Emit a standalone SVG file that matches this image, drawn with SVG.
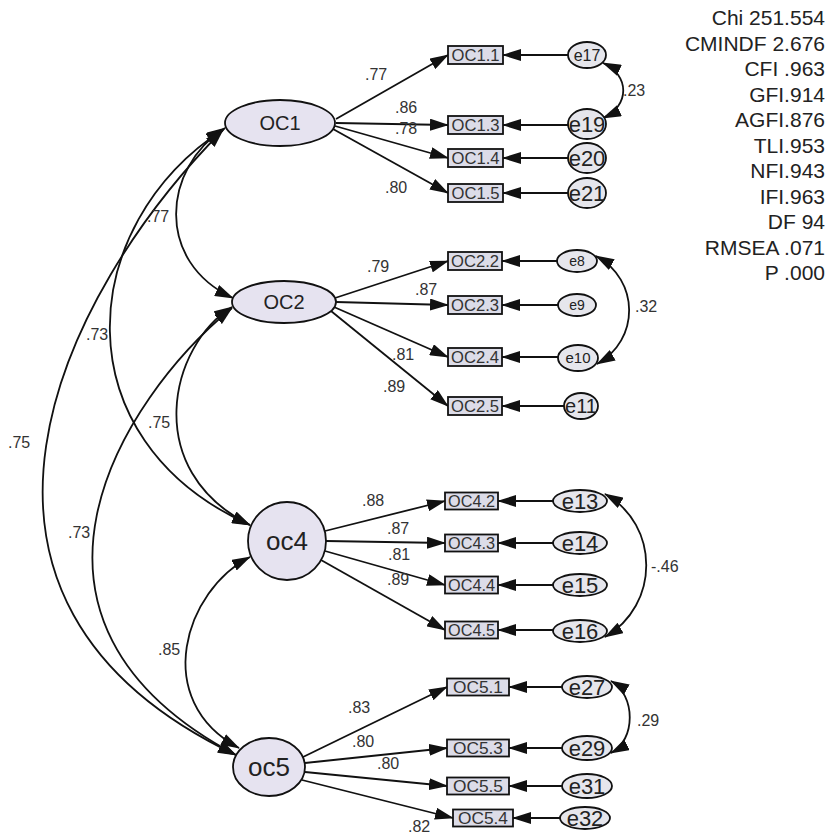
<svg xmlns="http://www.w3.org/2000/svg" width="833" height="838" viewBox="0 0 833 838">
<defs>
<marker id="ah" viewBox="0 0 19 12" refX="18" refY="6" markerWidth="19" markerHeight="12" orient="auto-start-reverse" markerUnits="userSpaceOnUse"><path d="M0,0 L19,6 L0,12 z" fill="#111"/></marker>
<style>
text{font-family:"Liberation Sans",Arial,sans-serif}
.lat{fill:#e6e3f0;stroke:#111;stroke-width:1.8}
.box{fill:#dcdce8;stroke:#111;stroke-width:1.8}
.err{fill:#e6e6ec;stroke:#111;stroke-width:1.8}
.ln{fill:none;stroke:#111;stroke-width:1.8;marker-end:url(#ah)}
.cov{fill:none;stroke:#111;stroke-width:1.8;marker-start:url(#ah);marker-end:url(#ah)}
.bt{font-size:16px;fill:#333;text-anchor:middle}
.lt{font-size:20px;fill:#222;text-anchor:middle}
.et{fill:#222;text-anchor:middle}
.cf{font-size:16px;fill:#333}
.st{font-size:21px;fill:#222;text-anchor:end}
</style>
</defs>
<rect width="833" height="838" fill="#ffffff"/>

<g id="connectors">
<path class="ln" d="M336,119 L448,55"/>
<path class="ln" d="M336,123 L448,125"/>
<path class="ln" d="M335,126 L448,158"/>
<path class="ln" d="M333,129 L448,193"/>
<path class="ln" d="M335,298 L448,261"/>
<path class="ln" d="M336,302 L448,305"/>
<path class="ln" d="M334,307 L448,357"/>
<path class="ln" d="M331,311 L448,406"/>
<path class="ln" d="M325,531 L445,501"/>
<path class="ln" d="M326,541 L445,543"/>
<path class="ln" d="M325,551 L445,585"/>
<path class="ln" d="M321,560 L445,630"/>
<path class="ln" d="M303,757 L447,687"/>
<path class="ln" d="M305,763 L447,748"/>
<path class="ln" d="M305,772 L447,786"/>
<path class="ln" d="M302,780 L453,818"/>
<path class="ln" d="M568,55 L503,55"/>
<path class="ln" d="M568,125 L503,125"/>
<path class="ln" d="M568,158 L503,158"/>
<path class="ln" d="M568,193 L503,193"/>
<path class="ln" d="M557,261 L502,261"/>
<path class="ln" d="M558,305 L502,305"/>
<path class="ln" d="M558,357 L502,357"/>
<path class="ln" d="M564,406 L502,406"/>
<path class="ln" d="M553,501 L498,501"/>
<path class="ln" d="M553,543 L498,543"/>
<path class="ln" d="M553,585 L498,585"/>
<path class="ln" d="M553,630 L498,630"/>
<path class="ln" d="M562,687 L509,687"/>
<path class="ln" d="M562,748 L509,748"/>
<path class="ln" d="M562,786 L509,786"/>
<path class="ln" d="M560,818 L513,818"/>
<path class="cov" d="M603,63 C630,75 630,106 603,118"/>
<path class="cov" d="M596,256 C640,280 640,340 597,364"/>
<path class="cov" d="M605,494 C660,525 660,605 605,637"/>
<path class="cov" d="M611,681 C636,695 636,740 611,753"/>
<path class="cov" d="M225,128 C162,168 155,262 233,298"/>
<path class="cov" d="M224,129 C75,225 60,440 250,525"/>
<path class="cov" d="M223,130 C60,294 -90,600 236,755"/>
<path class="cov" d="M232,307 C170,345 140,470 250,525"/>
<path class="cov" d="M232,308 C120,400 -18,620 236,755"/>
<path class="cov" d="M250,557 C185,590 150,700 239,748"/>
</g>

<g id="labels">
<text class="cf" x="365" y="80">.77</text>
<text class="cf" x="395" y="113">.86</text>
<text class="cf" x="395" y="134">.78</text>
<text class="cf" x="385" y="193">.80</text>
<text class="cf" x="367" y="272">.79</text>
<text class="cf" x="415" y="295">.87</text>
<text class="cf" x="392" y="360">.81</text>
<text class="cf" x="383" y="392">.89</text>
<text class="cf" x="362" y="506">.88</text>
<text class="cf" x="387" y="534">.87</text>
<text class="cf" x="388" y="560">.81</text>
<text class="cf" x="387" y="585">.89</text>
<text class="cf" x="348" y="713">.83</text>
<text class="cf" x="352" y="747">.80</text>
<text class="cf" x="377" y="769">.80</text>
<text class="cf" x="408" y="832">.82</text>
<text class="cf" x="623" y="96">.23</text>
<text class="cf" x="635" y="312">.32</text>
<text class="cf" x="651" y="572">-.46</text>
<text class="cf" x="637" y="726">.29</text>
<text class="cf" x="147" y="222">.77</text>
<text class="cf" x="86" y="340">.73</text>
<text class="cf" x="148" y="428">.75</text>
<text class="cf" x="8" y="448">.75</text>
<text class="cf" x="68" y="538">.73</text>
<text class="cf" x="158" y="655">.85</text>
</g>

<g id="OC1"><ellipse class="lat" cx="280" cy="123" rx="55" ry="23"/><text class="lt" x="280" y="130">OC1</text></g>
<g id="OC2"><ellipse class="lat" cx="284" cy="302" rx="52" ry="21"/><text class="lt" x="284" y="309">OC2</text></g>
<g id="oc4"><circle class="lat" cx="287" cy="541" r="39"/><text class="lt" x="287" y="550" style="font-size:26px">oc4</text></g>
<g id="oc5"><ellipse class="lat" cx="269" cy="767" rx="36" ry="29"/><text class="lt" x="269" y="776" style="font-size:26px">oc5</text></g>

<g id="OC1.1"><rect class="box" x="448" y="46" width="55" height="18"/><text class="bt" x="475.5" y="61" textLength="48" lengthAdjust="spacingAndGlyphs">OC1.1</text></g>
<g id="OC1.3"><rect class="box" x="448" y="116" width="55" height="18"/><text class="bt" x="475.5" y="131" textLength="48" lengthAdjust="spacingAndGlyphs">OC1.3</text></g>
<g id="OC1.4"><rect class="box" x="448" y="149" width="55" height="18"/><text class="bt" x="475.5" y="164" textLength="48" lengthAdjust="spacingAndGlyphs">OC1.4</text></g>
<g id="OC1.5"><rect class="box" x="448" y="184" width="55" height="18"/><text class="bt" x="475.5" y="199" textLength="48" lengthAdjust="spacingAndGlyphs">OC1.5</text></g>
<g id="OC2.2"><rect class="box" x="448" y="252" width="54" height="18"/><text class="bt" x="475" y="267" textLength="48" lengthAdjust="spacingAndGlyphs">OC2.2</text></g>
<g id="OC2.3"><rect class="box" x="448" y="296" width="54" height="18"/><text class="bt" x="475" y="311" textLength="48" lengthAdjust="spacingAndGlyphs">OC2.3</text></g>
<g id="OC2.4"><rect class="box" x="448" y="348" width="54" height="18"/><text class="bt" x="475" y="363" textLength="48" lengthAdjust="spacingAndGlyphs">OC2.4</text></g>
<g id="OC2.5"><rect class="box" x="448" y="397" width="54" height="18"/><text class="bt" x="475" y="412" textLength="48" lengthAdjust="spacingAndGlyphs">OC2.5</text></g>
<g id="OC4.2"><rect class="box" x="445" y="492.5" width="53" height="17"/><text class="bt" x="471.5" y="507" textLength="47" lengthAdjust="spacingAndGlyphs">OC4.2</text></g>
<g id="OC4.3"><rect class="box" x="445" y="534.5" width="53" height="17"/><text class="bt" x="471.5" y="549" textLength="47" lengthAdjust="spacingAndGlyphs">OC4.3</text></g>
<g id="OC4.4"><rect class="box" x="445" y="576.5" width="53" height="17"/><text class="bt" x="471.5" y="591" textLength="47" lengthAdjust="spacingAndGlyphs">OC4.4</text></g>
<g id="OC4.5"><rect class="box" x="445" y="621.5" width="53" height="17"/><text class="bt" x="471.5" y="636" textLength="47" lengthAdjust="spacingAndGlyphs">OC4.5</text></g>
<g id="OC5.1"><rect class="box" x="447" y="678.5" width="62" height="17"/><text class="bt" x="478" y="693" textLength="50" lengthAdjust="spacingAndGlyphs">OC5.1</text></g>
<g id="OC5.3"><rect class="box" x="447" y="739.5" width="62" height="17"/><text class="bt" x="478" y="754" textLength="50" lengthAdjust="spacingAndGlyphs">OC5.3</text></g>
<g id="OC5.5"><rect class="box" x="447" y="777.5" width="62" height="17"/><text class="bt" x="478" y="792" textLength="50" lengthAdjust="spacingAndGlyphs">OC5.5</text></g>
<g id="OC5.4"><rect class="box" x="453" y="809.5" width="60" height="17"/><text class="bt" x="483" y="824" textLength="50" lengthAdjust="spacingAndGlyphs">OC5.4</text></g>

<g id="e17"><ellipse class="err" cx="587" cy="55" rx="19" ry="13"/><text class="et" x="587" y="61" style="font-size:16px">e17</text></g>
<g id="e19"><ellipse class="err" cx="587" cy="124" rx="19" ry="15"/><text class="et" x="587" y="132" style="font-size:22px">e19</text></g>
<g id="e20"><ellipse class="err" cx="587" cy="158" rx="19" ry="15"/><text class="et" x="587" y="166" style="font-size:22px">e20</text></g>
<g id="e21"><ellipse class="err" cx="587" cy="193" rx="19" ry="15"/><text class="et" x="587" y="201" style="font-size:22px">e21</text></g>
<g id="e8"><ellipse class="err" cx="577" cy="261" rx="20" ry="11"/><text class="et" x="577" y="266" style="font-size:14px">e8</text></g>
<g id="e9"><ellipse class="err" cx="577" cy="305" rx="19" ry="11"/><text class="et" x="577" y="310" style="font-size:14px">e9</text></g>
<g id="e10"><ellipse class="err" cx="578" cy="358" rx="20" ry="13"/><text class="et" x="578" y="363" style="font-size:15px">e10</text></g>
<g id="e11"><ellipse class="err" cx="581" cy="406" rx="17" ry="13"/><text class="et" x="581" y="413" style="font-size:20px">e11</text></g>
<g id="e13"><ellipse class="err" cx="580" cy="501" rx="27" ry="11"/><text class="et" x="580" y="509" style="font-size:22px">e13</text></g>
<g id="e14"><ellipse class="err" cx="580" cy="543" rx="27" ry="11"/><text class="et" x="580" y="551" style="font-size:22px">e14</text></g>
<g id="e15"><ellipse class="err" cx="580" cy="585" rx="27" ry="11"/><text class="et" x="580" y="593" style="font-size:22px">e15</text></g>
<g id="e16"><ellipse class="err" cx="580" cy="631" rx="27" ry="11"/><text class="et" x="580" y="639" style="font-size:22px">e16</text></g>
<g id="e27"><ellipse class="err" cx="587" cy="687" rx="25" ry="11"/><text class="et" x="587" y="695" style="font-size:22px">e27</text></g>
<g id="e29"><ellipse class="err" cx="587" cy="748" rx="25" ry="12"/><text class="et" x="587" y="756" style="font-size:22px">e29</text></g>
<g id="e31"><ellipse class="err" cx="587" cy="786" rx="25" ry="12"/><text class="et" x="587" y="794" style="font-size:22px">e31</text></g>
<g id="e32"><ellipse class="err" cx="585" cy="818" rx="25" ry="11"/><text class="et" x="585" y="826" style="font-size:22px">e32</text></g>

<g id="fit">
<text class="st" x="825" y="25">Chi 251.554</text>
<text class="st" x="825" y="50.5">CMINDF 2.676</text>
<text class="st" x="825" y="76">CFI .963</text>
<text class="st" x="825" y="101.5">GFI.914</text>
<text class="st" x="825" y="127">AGFI.876</text>
<text class="st" x="825" y="152.5">TLI.953</text>
<text class="st" x="825" y="178">NFI.943</text>
<text class="st" x="825" y="203.5">IFI.963</text>
<text class="st" x="825" y="229">DF 94</text>
<text class="st" x="825" y="254.5">RMSEA .071</text>
<text class="st" x="825" y="280">P .000</text>
</g>
</svg>
